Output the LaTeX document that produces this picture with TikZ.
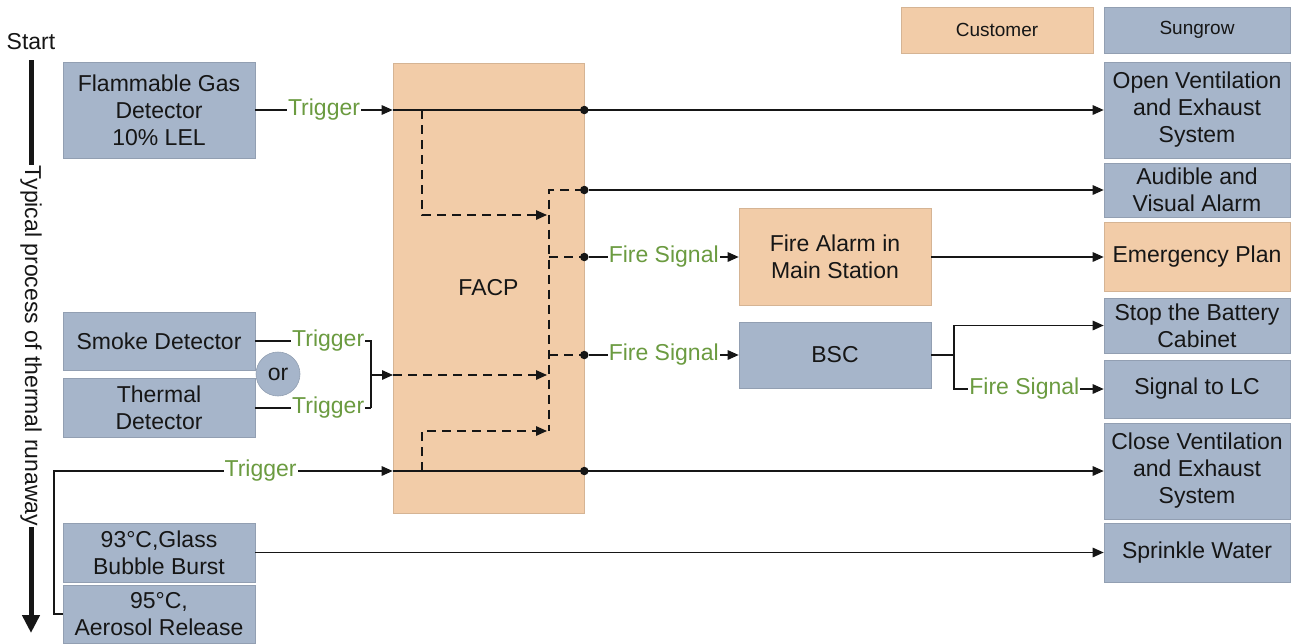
\documentclass[tikz,border=0pt]{standalone}
\usepackage{fontspec}
\setmainfont{Liberation Sans}
\usetikzlibrary{arrows.meta,calc}
\definecolor{bluebox}{RGB}{166,181,202}
\definecolor{orangebox}{RGB}{242,204,168}
\definecolor{greentxt}{RGB}{107,155,64}
\definecolor{txt}{RGB}{22,22,22}
\begin{document}
\begin{tikzpicture}[x=1pt,y=-1pt,
  every node/.style={font=\fontsize{23}{27}\selectfont, text=txt},
  sbox/.style={rectangle, draw=bluebox!88!black, line width=0.6pt, fill=bluebox, align=center, inner sep=0pt},
  obox/.style={sbox, fill=orangebox, draw=orangebox!88!black},
  legend/.style={font=\fontsize{19}{22}\selectfont},
  wire/.style={line width=1.4pt, draw=txt},
  arr/.style={wire, -{Triangle[length=11pt,width=9.5pt]}},
  dwire/.style={wire, dash pattern=on 9pt off 6pt},
  darr/.style={dwire, -{Triangle[length=11pt,width=9.5pt]}},
  lbl/.style={fill=white, text=greentxt, inner sep=1pt},
  dot/.style={circle, fill=txt, inner sep=0pt, minimum size=8.5pt},
]
\useasboundingbox (0,0) rectangle (1296,643);

% ---- time axis ----
\node (start) at (31,42) {Start};
\coordinate (axtop) at (31,60);
\coordinate (axbot) at (31,633);
\draw[line width=5pt, draw=txt, -{Triangle[length=18pt,width=17pt]}] (axtop) -- (axbot);
\node[rotate=-90, fill=white, inner sep=1pt] (axis) at (31,346) {Typical process of thermal runaway};

% ---- legend ----
\node[obox, legend, minimum width=192pt, minimum height=46pt] (customer) at (997,30) {Customer};
\node[sbox, legend, minimum width=186pt, minimum height=46pt] (sungrow) at (1197,30) {Sungrow};

% ---- left inputs ----
\node[sbox, minimum width=192pt, minimum height=96pt] (flam) at (159,110) {Flammable Gas\\Detector\\10\% LEL};
\node[sbox, minimum width=192pt, minimum height=58pt] (smoke) at (159,341) {Smoke Detector};
\node[sbox, minimum width=192pt, minimum height=59pt] (thermal) at (159,408) {Thermal\\Detector};
\node[circle, fill=bluebox, draw=bluebox!88!black, line width=0.6pt, minimum size=44pt, inner sep=0pt] (or) at (278,374) {or};
\node[sbox, minimum width=192pt, minimum height=59pt] (glass) at (159,552.5) {93°C,Glass\\Bubble Burst};
\node[sbox, minimum width=192pt, minimum height=58pt] (aerosol) at (159,614) {95°C,\\Aerosol Release};

% ---- middle ----
\node[obox, minimum width=191pt, minimum height=450pt] (facp) at (488.5,288) {FACP};
\node[obox, minimum width=192pt, minimum height=97pt] (alarm) at (835,257) {Fire Alarm in\\Main Station};
\node[sbox, minimum width=192pt, minimum height=66pt] (bsc) at (835,355) {BSC};

% ---- right outputs ----
\node[sbox, minimum width=186pt, minimum height=96pt] (openv) at (1197,110) {Open Ventilation\\and Exhaust\\System};
\node[sbox, minimum width=186pt, minimum height=54pt] (audible) at (1197,190) {Audible and\\Visual Alarm};
\node[obox, minimum width=186pt, minimum height=69pt] (emerg) at (1197,257) {Emergency Plan};
\node[sbox, minimum width=186pt, minimum height=55pt] (stopb) at (1197,325.5) {Stop the Battery\\Cabinet};
\node[sbox, minimum width=186pt, minimum height=58pt] (lc) at (1197,389) {Signal to LC};
\node[sbox, minimum width=186pt, minimum height=96pt] (closev) at (1197,471) {Close Ventilation\\and Exhaust\\System};
\node[sbox, minimum width=186pt, minimum height=59pt] (sprinkle) at (1197,552.5) {Sprinkle Water};

% ---- coordinates ----
\coordinate (inA) at (facp.west |- flam.east);
\coordinate (inB) at (393,375);
\coordinate (inC) at (facp.west |- closev.west);
\coordinate (brk1) at (371,341);
\coordinate (brk2) at (371,408);
\coordinate (brkm) at (371,375);
\coordinate (ga) at (422,110);
\coordinate (gb) at (422,215);
\coordinate (gc) at (547,215);
\coordinate (ha) at (422,471);
\coordinate (hb) at (422,431);
\coordinate (hc) at (547,431);
\coordinate (bc) at (547,375);
\coordinate (bustop) at (549,190);
\coordinate (busbot) at (549,431);
\coordinate (elbowL) at (54,614);
\coordinate (elbowU) at (54,471);
\coordinate (bj) at (954,355);

% ---- dots ----
\node[dot] (d1) at (facp.east |- openv.west) {};
\node[dot] (d2) at (facp.east |- audible.west) {};
\node[dot] (d3) at (facp.east |- alarm.west) {};
\node[dot] (d4) at (facp.east |- bsc.west) {};
\node[dot] (d5) at (facp.east |- closev.west) {};

% ---- dashed internal logic ----
\draw[darr] (ga) -- (gb) -- (gc);
\draw[darr] (ha) -- (hb) -- (hc);
\draw[darr] (inB) -- (bc);
\draw[dwire] (d2.center) -- (bustop) -- (busbot);
\draw[dwire] (bustop |- d3) -- (d3.center);
\draw[dwire] (bustop |- d4) -- (d4.center);

% ---- solid connectors ----
\draw[arr] (flam.east) -- node[lbl] (t1) {Trigger} (inA);
\draw[arr] (inA) -- (openv.west);
\draw[arr] (d2) -- (audible.west);
\draw[arr] (d3) -- node[lbl] (f1) {Fire Signal} (alarm.west);
\draw[arr] (alarm.east) -- (emerg.west);
\draw[arr] (d4) -- node[lbl] (f2) {Fire Signal} (bsc.west);
\draw[wire] (smoke.east) -- node[lbl, pos=0.63] (t2) {Trigger} (brk1) -- (brk2);
\draw[wire] (thermal.east) -- node[lbl, pos=0.63] (t3) {Trigger} (brk2);
\draw[arr] (brkm) -- (inB);
\draw[arr] (aerosol.west) -- (elbowL) -- (elbowU) -- node[lbl, pos=0.61] (t4) {Trigger} (inC);
\draw[arr] (inC) -- (closev.west);
\draw[arr] (glass.east) -- (sprinkle.west);
\draw[wire] (bsc.east) -- (bj);
\draw[arr] (bj) |- (stopb.west);
\draw[arr] (bj) |- node[lbl, pos=0.735] (f3) {Fire Signal} (lc.west);
\end{tikzpicture}
\end{document}
